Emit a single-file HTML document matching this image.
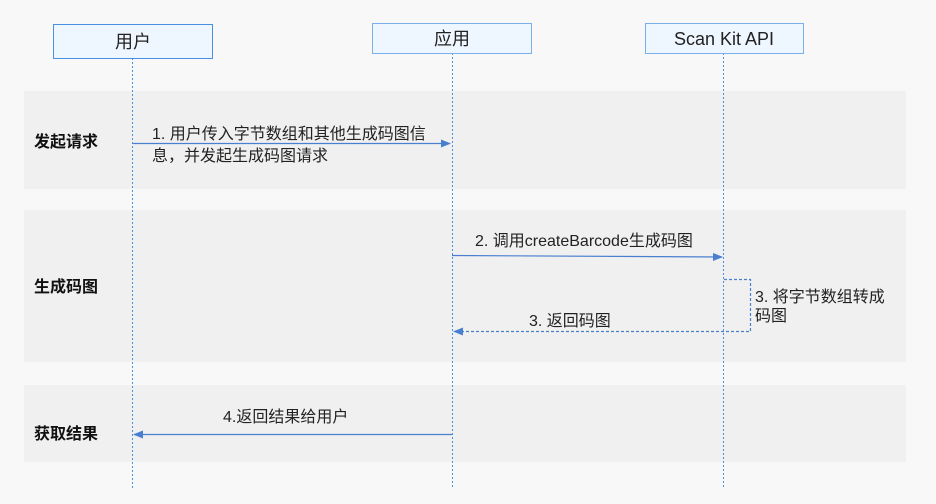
<!DOCTYPE html>
<html><head><meta charset="utf-8"><style>
body{margin:0;width:936px;height:504px;background:#f8f8f8;font-family:"Liberation Sans","Noto Sans CJK SC",sans-serif;}
</style></head><body>
<svg width="936" height="504" xmlns="http://www.w3.org/2000/svg" style="position:absolute;left:0;top:0" font-family="Liberation Sans, Noto Sans CJK SC, sans-serif">
<defs><marker id="a" markerWidth="10" markerHeight="8" refX="9" refY="4" orient="auto" markerUnits="userSpaceOnUse"><path d="M0,0 L10,4 L0,8z" fill="#4a7fd0"/></marker></defs>
<rect x="0" y="0" width="936" height="504" fill="#f8f8f8"/>
<rect x="24" y="91" width="882" height="98" fill="#f0f0f0"/>
<rect x="24" y="210" width="882" height="152" fill="#f0f0f0"/>
<rect x="24" y="385" width="882" height="77" fill="#f0f0f0"/>
<g stroke="#4a90e2" stroke-width="1" stroke-dasharray="2,2">
<line x1="132.5" y1="58" x2="132.5" y2="488"/>
<line x1="452.5" y1="53" x2="452.5" y2="488"/>
<line x1="723.5" y1="53" x2="723.5" y2="488"/>
</g>
<rect x="53.5" y="24.5" width="159" height="34" fill="#eef6ff" stroke="#4a90e2"/>
<rect x="372.5" y="23.5" width="159" height="30" fill="#eef6ff" stroke="#7ab0e8"/>
<rect x="645.5" y="23.5" width="158" height="30" fill="#eef6ff" stroke="#7ab0e8"/>
<g font-size="18" fill="#222" text-anchor="middle">
<text x="133" y="48">用户</text>
<text x="452" y="45">应用</text>
<text x="724" y="45">Scan Kit API</text>
</g>
<g font-size="16" font-weight="bold" fill="#111">
<text x="34" y="147">发起请求</text>
<text x="34" y="292">生成码图</text>
<text x="34" y="439">获取结果</text>
</g>
<g stroke="#4a7fd0" stroke-width="1.2" fill="none">
<line x1="133" y1="143.5" x2="450" y2="143.5" marker-end="url(#a)"/>
<line x1="452" y1="255.5" x2="722" y2="257" marker-end="url(#a)"/>
<line x1="452" y1="434.5" x2="134" y2="434.5" marker-end="url(#a)"/>
<polyline points="724,279.5 750.5,279.5 750.5,331.5 454,331.5" stroke-dasharray="3,2" marker-end="url(#a)"/>
</g>
<g font-size="16" fill="#222">
<text x="152" y="139">1. 用户传入字节数组和其他生成码图信</text>
<text x="152" y="161">息，并发起生成码图请求</text>
<text x="475" y="246">2. 调用createBarcode生成码图</text>
<text x="755" y="302">3. 将字节数组转成</text>
<text x="755" y="321">码图</text>
<text x="529" y="326">3. 返回码图</text>
<text x="223" y="422">4.返回结果给用户</text>
</g>
</svg>
</body></html>
